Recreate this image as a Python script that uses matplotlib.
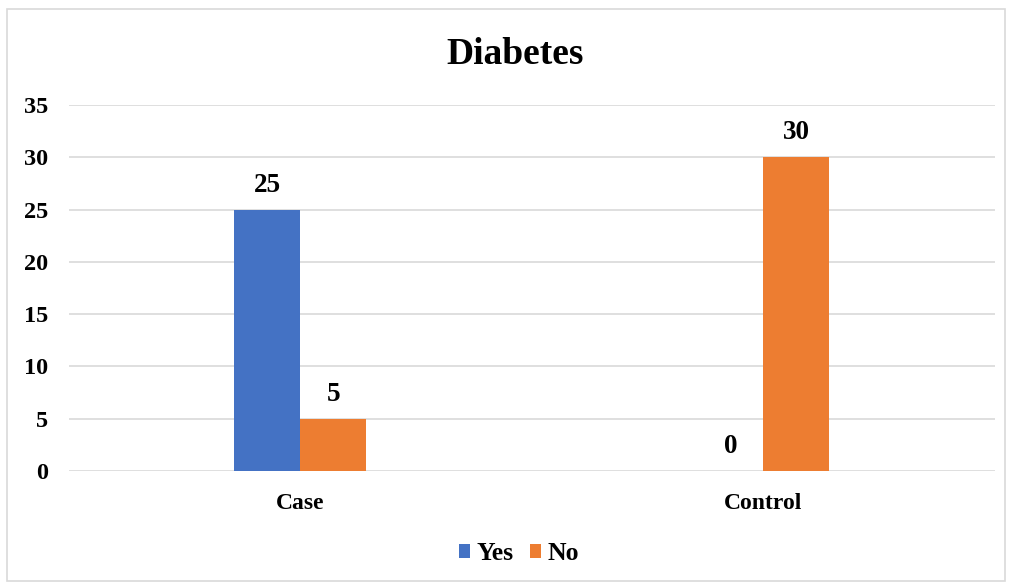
import matplotlib
matplotlib.use("Agg")
import matplotlib.pyplot as plt
import numpy as np
from matplotlib.patches import Rectangle

categories = ["Case", "Control"]
yes_vals = [25, 0]
no_vals = [5, 30]
series_names = ["Yes", "No"]
yticks = [0, 5, 10, 15, 20, 25, 30, 35]

col_yes = "#4472c4"
col_no = "#ed7d31"
grid_col = "#d9d9d9"

plt.rcParams["font.family"] = ["Liberation Serif", "DejaVu Serif"]
plt.rcParams["font.weight"] = "bold"

fig = plt.figure(figsize=(10.1, 5.83), dpi=100)
ax = fig.add_axes([0.0683, 0.1921, 0.9167, 0.6278])

# outer chart border
fig.patches.append(Rectangle((7 / 1010, 0.004), 998 / 1010, 1 - 9 / 583 - 0.004,
                             transform=fig.transFigure, fill=False,
                             edgecolor=grid_col, linewidth=1.2))

x = np.arange(len(categories))
w = 0.1425
b_yes = ax.bar(x - w / 2, yes_vals, w, color=col_yes, label=series_names[0], zorder=3)
b_no = ax.bar(x + w / 2, no_vals, w, color=col_no, label=series_names[1], zorder=3)

for bars, vals in ((b_yes, yes_vals), (b_no, no_vals)):
    for rect, v in zip(bars, vals):
        ax.annotate(f"{v}", (rect.get_x() + rect.get_width() / 2, v),
                    xytext=(0, 17.5), textcoords="offset points",
                    ha="center", va="center", fontsize=19.5, fontweight="bold")

ax.set_xlim(-0.5, 1.5)
ax.set_ylim(0, 35)
ax.set_yticks(yticks)
ax.set_xticks(x)
ax.set_xticklabels(categories)
ax.yaxis.grid(True, color=grid_col, linewidth=1.2, zorder=0)
ax.set_axisbelow(True)
for s in ax.spines.values():
    s.set_visible(False)
ax.tick_params(axis="both", length=0)
ax.tick_params(axis="x", pad=16, labelsize=17)
ax.tick_params(axis="y", pad=15, labelsize=17.5)

fig.text(515 / 1010, 0.907, "Diabetes", ha="center", va="center",
         fontsize=27, fontweight="bold")

fig.legend(handles=[b_yes, b_no], labels=series_names, loc="center",
           bbox_to_anchor=(0.514, 0.05), ncol=2, frameon=False,
           fontsize=18.5, handlelength=0.43, handleheight=0.43,
           handletextpad=0.23, columnspacing=0.66)

fig.savefig("out.png", dpi=100, facecolor="white")
